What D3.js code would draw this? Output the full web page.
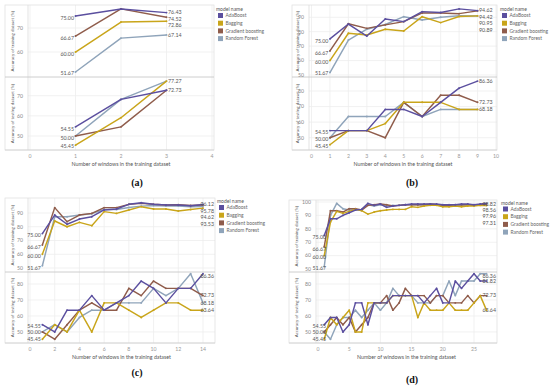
<!DOCTYPE html>
<html>
<head>
<meta charset="utf-8">
<script src="https://cdn.jsdelivr.net/npm/d3@7"></script>
<style>
body { margin: 0; background: #fff; }
svg { display: block; font-family: Lato, "Noto Sans", sans-serif; }
</style>
</head>
<body>
<div class="canvas"></div>
<script>
// series order: AdaBoost, Bagging, Gradient boosting, Random Forest
const models = ['AdaBoost', 'Bagging', 'Gradient boosting', 'Random Forest'];
const modelColors = ['#5b4f9f', '#c9a51a', '#8f5c4b', '#8fa4ba'];

// (a)
const windowsA = [1, 2, 3];
const trainA = [
  [75.00, 77.9, 76.43],
  [60.00, 72.5, 72.86],
  [66.67, 78.0, 74.52],
  [51.67, 65.8, 67.14]
];
const testA = [
  [54.55, 68.18, 72.73],
  [45.45, 59.09, 77.27],
  [50.00, 54.55, 72.73],
  [50.00, 68.18, 77.27]
];

// (b)
const windowsB = [1, 2, 3, 4, 5, 6, 7, 8, 9];
const trainB = [
  [75.00, 85.3, 77.0, 88.8, 87.0, 93.9, 93.3, 95.8, 94.62],
  [60.00, 78.9, 77.7, 81.7, 80.5, 90.4, 86.3, 90.5, 90.95],
  [66.67, 85.5, 82.3, 84.7, 87.0, 93.0, 93.0, 92.5, 94.42],
  [51.67, 74.2, 81.7, 85.0, 90.4, 88.1, 90.0, 91.0, 90.89]
];
const testB = [
  [54.55, 54.55, 54.55, 68.18, 68.18, 63.64, 72.73, 81.82, 86.36],
  [45.45, 54.55, 54.55, 59.09, 72.73, 72.73, 72.73, 68.18, 68.18],
  [50.00, 54.55, 54.55, 50.00, 72.73, 63.64, 77.27, 77.27, 72.73],
  [50.00, 63.64, 63.64, 63.64, 72.73, 63.64, 68.18, 68.18, 68.18]
];

// (c)
const windowsC = [1, 2, 3, 4, 5, 6, 7, 8, 9, 10, 11, 12, 13, 14];
const trainC = [
  [75.00, 88.5, 81.8, 85.6, 87.3, 92.2, 92.9, 96.3, 97.5, 96.3, 95.8, 95.8, 95.3, 96.12],
  [60.00, 84.2, 80.0, 83.2, 80.8, 91.0, 89.7, 92.2, 94.6, 92.9, 92.9, 91.5, 92.5, 93.53],
  [66.67, 93.9, 83.7, 88.5, 89.7, 93.9, 93.9, 96.3, 97.0, 96.3, 95.8, 96.0, 95.5, 95.78],
  [51.67, 87.3, 87.3, 88.5, 89.5, 92.5, 92.5, 94.0, 95.0, 95.5, 95.0, 95.0, 94.5, 94.62]
];
const testC = [
  [54.55, 50.00, 63.64, 63.64, 72.73, 63.64, 68.18, 72.73, 81.82, 77.27, 68.18, 77.27, 77.27, 86.36],
  [45.45, 54.55, 50.00, 63.64, 50.00, 68.18, 68.18, 63.64, 59.09, 63.64, 68.18, 68.18, 63.64, 63.64],
  [50.00, 45.45, 54.55, 63.64, 68.18, 63.64, 63.64, 77.27, 72.73, 81.82, 77.27, 77.27, 77.27, 72.73],
  [50.00, 54.55, 50.00, 59.09, 63.64, 63.64, 68.18, 68.18, 68.18, 77.27, 72.73, 77.27, 86.36, 68.18]
];

// (d)
const windowsD = d3.range(1, 28);
const trainD = [
  [75.00, 87.5, 87.5, 90.0, 92.0, 94.0, 94.5, 99.0, 97.5, 98.5, 96.0, 97.0, 97.5, 98.0, 98.5, 98.5, 98.5, 98.5, 98.5, 98.0, 98.0, 98.0, 98.5, 98.5, 98.0, 98.5, 98.82],
  [60.00, 85.0, 93.0, 91.5, 93.0, 94.5, 93.5, 91.0, 92.5, 93.5, 94.0, 94.5, 94.5, 94.5, 96.5, 96.0, 97.0, 97.5, 97.5, 96.5, 96.5, 97.0, 96.5, 97.0, 97.0, 97.5, 97.31],
  [66.67, 93.5, 93.5, 92.5, 95.0, 95.0, 94.0, 97.5, 98.0, 98.5, 98.0, 97.0, 97.5, 98.0, 98.0, 98.0, 98.0, 98.5, 98.0, 97.5, 97.5, 98.0, 98.0, 98.0, 97.5, 98.0, 98.56],
  [51.67, 90.0, 99.0, 95.0, 94.0, 94.0, 94.5, 98.0, 97.0, 98.0, 97.0, 97.5, 97.5, 98.0, 98.0, 98.0, 98.0, 98.0, 98.0, 97.5, 97.5, 97.0, 97.5, 98.0, 97.5, 98.0, 97.96]
];
const testD = [
  [54.55, 59.09, 59.09, 50.00, 54.55, 68.18, 68.18, 54.55, 68.18, 68.18, 68.18, 72.73, 72.73, 72.73, 72.73, 72.73, 68.18, 72.73, 77.27, 68.18, 68.18, 81.82, 77.27, 81.82, 86.36, 81.82, 81.82],
  [45.45, 59.09, 54.55, 59.09, 63.64, 50.00, 50.00, 68.18, 68.18, 68.18, 68.18, 72.73, 72.73, 72.73, 72.73, 59.09, 68.18, 63.64, 63.64, 63.64, 68.18, 63.64, 63.64, 63.64, 68.18, 72.73, 63.64],
  [50.00, 54.55, 59.09, 54.55, 59.09, 50.00, 54.55, 59.09, 68.18, 68.18, 72.73, 63.64, 68.18, 77.27, 72.73, 72.73, 72.73, 68.18, 72.73, 72.73, 68.18, 68.18, 68.18, 72.73, 68.18, 72.73, 72.73],
  [50.00, 45.45, 54.55, 59.09, 59.09, 63.64, 59.09, 63.64, 68.18, 63.64, 68.18, 77.27, 72.73, 72.73, 72.73, 68.18, 68.18, 68.18, 72.73, 72.73, 81.82, 72.73, 81.82, 81.82, 81.82, 86.36, 86.36]
];

const xTitle = 'Number of windows in the training dataset';
const trainTitle = 'Accuracy of training dataset [%]';
const testTitle = 'Accuracy of testing dataset [%]';

const svg = d3.select('.canvas').append('svg')
  .attr('width', 550).attr('height', 388);

// spread labels so they don't overlap
function spread(items, gap, lo, hi) {
  items.sort((a, b) => a.y - b.y);
  for (let i = 1; i < items.length; i++) {
    if (items[i].y < items[i - 1].y + gap) items[i].y = items[i - 1].y + gap;
  }
  const last = items[items.length - 1];
  if (last && last.y > hi) {
    last.y = hi;
    for (let i = items.length - 2; i >= 0; i--) {
      if (items[i].y > items[i + 1].y - gap) items[i].y = items[i + 1].y - gap;
    }
  }
  items.forEach(d => { if (d.y < lo) d.y = lo; });
  return items;
}

function drawPanel(p) {
  const g = svg.append('g');
  const x = d3.scaleLinear().domain(p.xDom).range([p.x0, p.x1]);
  const subs = [
    { data: p.train, y: d3.scaleLinear().domain(p.topDom).range([p.split, p.top]), ticks: p.topTicks, title: trainTitle, t: p.top, b: p.split },
    { data: p.test, y: d3.scaleLinear().domain(p.botDom).range([p.bottom, p.split]), ticks: p.botTicks, title: testTitle, t: p.split, b: p.bottom }
  ];

  // grid
  subs.forEach(s => {
    g.append('g').selectAll('line').data(s.ticks).join('line')
      .attr('x1', p.left).attr('x2', p.right)
      .attr('y1', d => s.y(d)).attr('y2', d => s.y(d))
      .attr('stroke', '#eeeeee').attr('stroke-width', 0.8);
  });
  g.append('g').selectAll('line').data(p.xTicks).join('line')
    .attr('x1', d => x(d)).attr('x2', d => x(d))
    .attr('y1', p.top).attr('y2', p.bottom)
    .attr('stroke', '#eeeeee').attr('stroke-width', 0.8);

  // frame
  g.append('rect').attr('x', p.outer).attr('y', p.top)
    .attr('width', p.right - p.outer).attr('height', p.bottom - p.top)
    .attr('fill', 'none').attr('stroke', '#e2e2e2').attr('stroke-width', 0.8);
  g.append('line').attr('x1', p.left).attr('x2', p.left).attr('y1', p.top).attr('y2', p.bottom)
    .attr('stroke', '#dcdcdc').attr('stroke-width', 0.8);
  g.append('line').attr('x1', p.outer).attr('x2', p.right).attr('y1', p.split).attr('y2', p.split)
    .attr('stroke', '#c8c8c8').attr('stroke-width', 0.9);
  g.append('line').attr('x1', p.outer).attr('x2', p.right).attr('y1', p.bottom).attr('y2', p.bottom)
    .attr('stroke', '#d0d0d0').attr('stroke-width', 0.8);

  // y ticks and titles
  subs.forEach(s => {
    g.append('g').selectAll('text').data(s.ticks).join('text')
      .attr('x', p.left - 5).attr('y', d => s.y(d)).attr('dy', '0.35em')
      .attr('text-anchor', 'end').attr('font-size', 5.2).attr('fill', '#888')
      .text(d => d);
    g.append('text')
      .attr('transform', `translate(${p.ytx}, ${(s.t + s.b) / 2}) rotate(-90)`)
      .attr('text-anchor', 'middle').attr('dy', '0.35em')
      .attr('font-size', 4.4).attr('fill', '#555')
      .text(s.title);
  });

  // x ticks
  g.append('g').selectAll('text').data(p.xTicks).join('text')
    .attr('x', d => x(d)).attr('y', p.bottom + 6).attr('dy', '0.35em')
    .attr('text-anchor', 'middle').attr('font-size', 5.2).attr('fill', '#999')
    .text(d => d);
  g.append('text').attr('x', (p.left + p.right) / 2).attr('y', p.bottom + 14).attr('dy', '0.35em')
    .attr('text-anchor', 'middle').attr('font-size', 5.3).attr('fill', '#555')
    .text(xTitle);

  // lines
  const order = [3, 2, 1, 0];
  subs.forEach(s => {
    const line = d3.line().x((d, i) => x(p.windows[i])).y(d => s.y(d));
    order.forEach(k => {
      g.append('path').datum(s.data[k])
        .attr('fill', 'none').attr('stroke', modelColors[k])
        .attr('stroke-width', 1.45).attr('stroke-linejoin', 'round')
        .attr('d', line);
      g.append('g').selectAll('circle').data(s.data[k]).join('circle')
        .attr('cx', (d, i) => x(p.windows[i])).attr('cy', d => s.y(d))
        .attr('r', 0.95).attr('fill', modelColors[k]);
    });

    // labels at first and last window
    const n = p.windows.length;
    [[0, -1, 'end', 2], [n - 1, 1, 'start', 0]].forEach(([idx, dir, anchor, off]) => {
      const seen = new Set();
      let items = [];
      s.data.forEach(arr => {
        const v = arr[idx].toFixed(2);
        if (seen.has(v)) return;
        seen.add(v);
        items.push({ v, y: s.y(arr[idx]) + off });
      });
      items = spread(items, 6.4, s.t + 4, s.b - 4);
      const px = x(p.windows[idx]) + dir * 1.5;
      const labels = g.append('g').selectAll('text').data(items).join('text')
        .attr('x', px).attr('y', d => d.y).attr('dy', '0.35em')
        .attr('text-anchor', anchor).attr('font-size', 5.3).attr('fill', '#555')
        .text(d => d.v);
      labels.each(function () {
        const w = this.getComputedTextLength();
        // keep labels clear of the pane edges / tick labels
        if (dir > 0 && px + w > p.right - 1) d3.select(this).attr('x', p.right - 1 - w);
        if (dir < 0 && px - w < p.left - 3.5) d3.select(this).attr('x', p.left - 3.5 + w);
      });
    });
  });

  // legend
  const lg = g.append('g').attr('transform', `translate(${p.legX}, ${p.legY})`);
  lg.append('text').attr('x', 0).attr('y', 0).attr('dy', '0.35em')
    .attr('font-size', 5).attr('fill', '#555').text('model name');
  const items = lg.selectAll('g').data(models).join('g')
    .attr('transform', (d, i) => `translate(2, ${6 + i * 7.7})`);
  items.append('rect').attr('x', 0).attr('y', -2.5).attr('width', 5).attr('height', 5)
    .attr('fill', (d, i) => modelColors[i]);
  items.append('text').attr('x', 7.5).attr('y', 0).attr('dy', '0.35em')
    .attr('font-size', 4.9).attr('fill', '#666').text(d => d);

  // caption
  svg.append('text').attr('x', p.capX).attr('y', p.capY)
    .attr('text-anchor', 'middle').attr('font-family', '"Liberation Serif", serif')
    .attr('font-weight', 'bold').attr('font-size', 10).attr('fill', '#111')
    .text(p.caption);
}

drawPanel({
  caption: '(a)', capX: 137, capY: 186,
  windows: windowsA, train: trainA, test: testA,
  xDom: [0, 4], x0: 30, x1: 212, xTicks: [0, 1, 2, 3, 4],
  outer: 5, left: 28, right: 214, top: 5, split: 77, bottom: 150, ytx: 12,
  topDom: [49.6, 79.6], topTicks: [60, 70],
  botDom: [43.05, 79.3], botTicks: [50, 60, 70],
  legX: 216, legY: 9.5
});

drawPanel({
  caption: '(b)', capX: 412, capY: 186,
  windows: windowsB, train: trainB, test: testB,
  xDom: [0, 10], x0: 311.5, x1: 496, xTicks: d3.range(0, 11),
  outer: 292, left: 309, right: 497, top: 5, split: 77, bottom: 150, ytx: 297,
  topDom: [48.6, 98.5], topTicks: [50, 60, 70, 80, 90],
  botDom: [42.1, 89], botTicks: [50, 60, 70, 80],
  legX: 500, legY: 9.5
});

drawPanel({
  caption: '(c)', capX: 137, capY: 376,
  windows: windowsC, train: trainC, test: testC,
  xDom: [0, 14], x0: 30, x1: 203, xTicks: d3.range(0, 15, 2),
  outer: 5, left: 28, right: 215, top: 198, split: 272, bottom: 343, ytx: 12,
  topDom: [47.1, 100.9], topTicks: [50, 60, 70, 80, 90],
  botDom: [43.1, 87.5], botTicks: [50, 60, 70, 80],
  legX: 217, legY: 201.5
});

drawPanel({
  caption: '(d)', capX: 412, capY: 383,
  windows: windowsD, train: trainD, test: testD,
  xDom: [0, 25], x0: 318, x1: 474, xTicks: d3.range(0, 26, 5),
  outer: 289, left: 316, right: 497, top: 200, split: 272, bottom: 343, ytx: 296,
  topDom: [47.8, 101.5], topTicks: [50, 60, 70, 80, 90, 100],
  botDom: [43.1, 87.5], botTicks: [50, 60, 70, 80],
  legX: 501, legY: 203
});
</script>
</body>
</html>
